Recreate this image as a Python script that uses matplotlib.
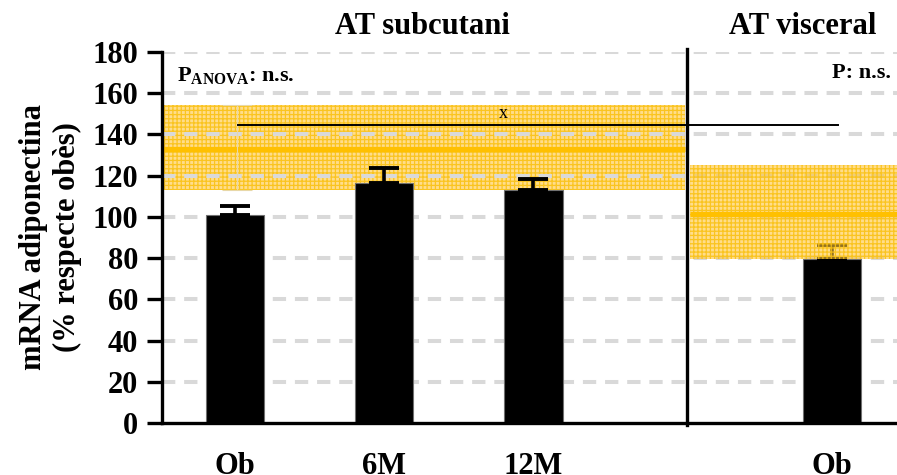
import matplotlib
matplotlib.use("Agg")
import matplotlib.pyplot as plt

plt.rcParams["font.family"] = ["Liberation Serif", "DejaVu Serif"]
plt.rcParams["font.weight"] = "bold"
plt.rcParams["axes.labelweight"] = "bold"
plt.rcParams["mathtext.fontset"] = "custom"
plt.rcParams["mathtext.rm"] = "Liberation Serif:bold"
plt.rcParams["mathtext.bf"] = "Liberation Serif:bold"
plt.rcParams["mathtext.it"] = "Liberation Serif:bold"
plt.rcParams["hatch.linewidth"] = 0.9

# Bar groups: subcutaneous (Ob, 6M, 12M) and visceral (Ob)
categories = ["Ob", "6M", "12M", "Ob"]
positions = [0, 1, 2, 4]
means = [101, 116.5, 113, 79.5]
errors = [4.5, 7, 5.5, 7]
yticks = [0, 20, 40, 60, 80, 100, 120, 140, 160, 180]

# Reference ranges of the lean group (mean and band limits)
sub_ref_mean, sub_ref_low, sub_ref_high = 133, 113, 154.5
vis_ref_mean, vis_ref_low, vis_ref_high = 101.5, 79.5, 125

bracket_y = 144.7

fig = plt.figure(figsize=(8.97, 4.75), dpi=100)
ax = fig.add_axes([162 / 897, 52 / 475, 1 - 162 / 897, 371 / 475])

xmin, xmax = -0.489, 4.436
ax.set_xlim(xmin, xmax)
ax.set_ylim(0, 180)

band_face = (1.0, 0.776, 0.22, 0.58)
hatch_col = (0.98, 0.76, 0.08, 0.9)
line_col = "#ffc000"

# gridlines
for y in yticks[1:]:
    ax.axhline(y, color="#d9d9d9", lw=2.9, linestyle=(0, (3.3, 2.2)),
               dash_capstyle="butt", zorder=1)

# subcutaneous reference band (behind bars)
ax.fill_between([xmin, 3.015], sub_ref_low, sub_ref_high, facecolor=band_face,
                edgecolor=hatch_col, hatch="++++", linewidth=0, zorder=0.5)
ax.plot([xmin, 3.015], [sub_ref_mean, sub_ref_mean], color=line_col, lw=3.8,
        solid_capstyle="butt", zorder=1.5)
# faint deviation marker of the reference
ax.errorbar([0.015], [sub_ref_mean],
            yerr=[[sub_ref_mean - sub_ref_low], [sub_ref_high - sub_ref_mean]],
            fmt="none", ecolor="#e8d8a8", elinewidth=0.8, capsize=11, capthick=0.8,
            zorder=1.6)

# bars
ax.bar(positions, means, width=0.39, color="black", edgecolor="#707070",
       linewidth=0.8, zorder=2)
ax.errorbar(positions, means, yerr=[[0] * len(means), errors], fmt="none",
            ecolor="black", elinewidth=2.6, capsize=11, capthick=2.8, zorder=3)

# visceral reference band (drawn over the bar, semi-transparent)
ax.fill_between([3.05, xmax], vis_ref_low, vis_ref_high, facecolor=band_face,
                edgecolor=hatch_col, hatch="++++", linewidth=0, zorder=4)
ax.plot([3.05, xmax], [vis_ref_mean, vis_ref_mean], color=line_col, lw=3.8,
        solid_capstyle="butt", zorder=4.5)

# divider between tissue groups
ax.plot([3.03, 3.03], [-1, 181.5], color="black", lw=2.4, clip_on=False, zorder=5)

# comparison bracket
ax.plot([0.02, 4.04], [bracket_y, bracket_y], color="black", lw=1.4, zorder=5)
ax.text(1.8, bracket_y + 1.5, "x", ha="center", va="bottom", fontsize=13,
        fontweight="normal", zorder=6)

# annotations
ax.text(-0.39, 168.5, r"P$_{\mathrm{ANOVA}}$: n.s.", ha="left", va="center",
        fontsize=16, fontweight="bold", zorder=6)
ax.text(4.0, 170, "P: n.s.", ha="left", va="center", fontsize=16,
        fontweight="bold", zorder=6)
ax.text(1.256, 192.5, "AT subcutani", ha="center", va="center", fontsize=22,
        fontweight="bold", clip_on=False)
ax.text(3.803, 192.5, "AT visceral", ha="center", va="center", fontsize=22,
        fontweight="bold", clip_on=False)

# axes styling
for side in ["top", "right"]:
    ax.spines[side].set_visible(False)
ax.spines["left"].set_linewidth(2.4)
ax.spines["bottom"].set_linewidth(2.4)
ax.set_yticks(yticks)
ax.set_yticklabels([str(v) for v in yticks], fontsize=22, fontweight="bold")
ax.tick_params(axis="y", length=11, width=2.4, pad=6)
ax.set_xticks(positions)
ax.set_xticklabels(categories, fontsize=22, fontweight="bold")
ax.tick_params(axis="x", length=0, pad=21)
ax.set_ylabel("mRNA adiponectina\n(% respecte obès)", fontsize=22,
              fontweight="bold", linespacing=1.22, labelpad=8)

fig.savefig("out.png", dpi=100)
